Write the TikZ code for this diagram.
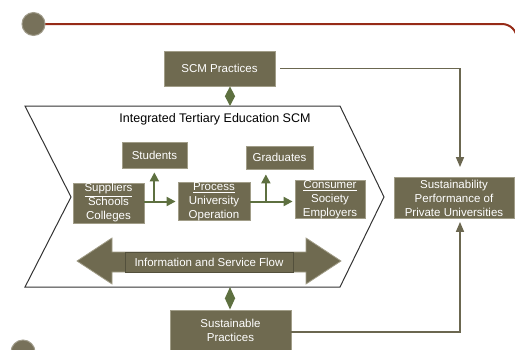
\documentclass[tikz,border=0pt]{standalone}
\usepackage{fontspec}
\setmainfont{Liberation Sans}
\usepackage{tikz}
\usetikzlibrary{arrows.meta}
\usetikzlibrary{calc}
\usepackage{xcolor}

\definecolor{boxfill}{HTML}{6F6A50}
\definecolor{boxline}{HTML}{A19D88}
\definecolor{arrgreen}{HTML}{5E7040}
\definecolor{linered}{HTML}{962B17}
\definecolor{connline}{HTML}{6B6750}
\definecolor{dotfill}{HTML}{77715A}

\begin{document}
\begin{tikzpicture}[x=1pt, y=-1pt, line width=1,
    blk/.style={draw=boxline, fill=boxfill, text=white, align=center, inner sep=0pt,
      font=\fontsize{11.5}{14}\selectfont, line width=0.8},
    grn/.style={draw=arrgreen, line width=2, -{Triangle[width=9pt,length=9pt]}},
    dia/.style={draw=arrgreen, line width=1.5,
      {Triangle[width=10pt,length=#1,fill=arrgreen]}-{Triangle[width=10pt,length=#1,fill=arrgreen]}},
    dia/.default=10pt,
    conn/.style={draw=connline, line width=1.5, -{Triangle[width=8pt,length=10pt]}}]
      \useasboundingbox (0,0) rectangle (515,349);

      %frame
      \draw[linered, line width=2, rounded corners=15] (45,24) -- (517,24) -- (517,360) -- (45,360);
      \draw[fill=dotfill, draw=dotfill!70!white] (33.5,24) circle (11.5pt);
      \draw[fill=dotfill, draw=dotfill!70!white] (23,352) circle (12pt);

      %chevron
      \draw[draw=black!80] (25,106) -- (340,106) -- (384,197) -- (340,287) -- (25,287) -- (71,197) -- cycle;
      \coordinate (chevtop) at (230,106);
      \coordinate (chevbot) at (230,287);
      \node[font=\fontsize{12.5}{14}\selectfont] (title) at (215,119) {Integrated Tertiary Education SCM};

      \node[blk, minimum width=111, minimum height=35] (scm) at (219.5,68.5) {SCM Practices};
      \node[blk, minimum width=121, minimum height=40] (sp) at (230.5,330) {Sustainable\\Practices};
      \node[blk, minimum width=120, minimum height=41] (perf) at (454,198) {Sustainability\\Performance of\\Private Universities};

      \node[blk, minimum width=65, minimum height=26] (stud) at (154.5,155) {Students};
      \node[blk, minimum width=67, minimum height=23] (grad) at (279.5,157.5) {Graduates};
      \node[blk, minimum width=71, minimum height=40] (supp) at (108.5,203) {\underline{Suppliers}\\Schools\\Colleges};
      \node[blk, minimum width=72, minimum height=37] (proc) at (214,201.5) {\underline{Process}\\University\\Operation};
      \node[blk, minimum width=70, minimum height=37] (cons) at (330,199.5) {\underline{Consumer}\\Society\\Employers};

      %flow arrow
      \draw[fill=boxfill, draw=boxline, line width=0.8] (77,261) -- (112,238) -- (112,252) -- (306,252) -- (306,238)
        -- (341,261) -- (306,284) -- (306,272) -- (112,272) -- (112,284) -- cycle;
      \node[blk, draw=boxfill!75!black, minimum width=168, minimum height=20] (flow) at (209,262) {Information and Service Flow};

      %links
      \draw[dia] (scm.south -| chevtop) -- (chevtop);
      \draw[dia=11.5pt] (chevbot) -- (sp.north -| chevbot);
      \draw[conn, shorten <=5pt, shorten >=10pt] (scm.east) -| ([xshift=6]perf.north);
      \draw[conn, shorten >=3pt] ([yshift=-2]sp.east) -| ([xshift=6]perf.south);

      \draw[grn, shorten >=2pt] (supp.east |- proc.west) -- (proc.west);
      \coordinate (b1) at ($(supp.east |- proc.west)!0.3!(proc.west)$);
      \draw[grn, shorten >=4pt] (b1) -- (b1 |- stud.south);
      \draw[grn, shorten >=2pt] (proc.east) -- (cons.west |- proc.east);
      \coordinate (b2) at ($(proc.east)!0.35!(cons.west |- proc.east)$);
      \draw[grn, shorten >=5pt] (b2) -- (b2 |- grad.south);
  \end{tikzpicture}
\end{document}
